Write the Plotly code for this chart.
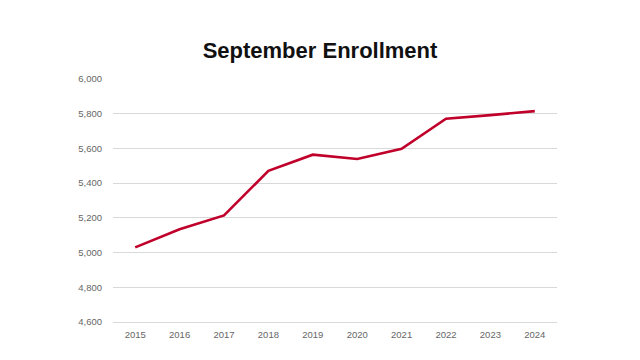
import plotly.graph_objects as go

years = ["2015", "2016", "2017", "2018", "2019", "2020", "2021", "2022", "2023", "2024"]
enrollment = [5030, 5134, 5214, 5471, 5564, 5539, 5598, 5771, 5792, 5815]
y_ticks = [4600, 4800, 5000, 5200, 5400, 5600, 5800, 6000]

fig = go.Figure()
fig.add_trace(go.Scatter(
    x=years, y=enrollment, mode="lines",
    line=dict(color="#C0002A", width=2.6),
    hoverinfo="skip",
))

fig.update_layout(
    width=640, height=360,
    paper_bgcolor="white", plot_bgcolor="white",
    margin=dict(l=105, r=91, t=71, b=46, autoexpand=False),
    showlegend=False,
    title=dict(
        text="<b>September Enrollment</b>",
        x=0.4875, xanchor="center", xref="container",
        y=0.883, yanchor="middle", yref="container",
        automargin=False,
        font=dict(family="Liberation Sans, Arial, sans-serif", size=22, color="#111111"),
    ),
    font=dict(family="Liberation Sans, Arial, sans-serif", size=9.5, color="#666666"),
)
fig.update_xaxes(
    type="category", range=[-0.5, 9.5], automargin=False,
    showgrid=False, zeroline=False,
    showline=True, linecolor="#D9D9D9", linewidth=1,
    ticks="", ticklabelstandoff=4,
    tickfont=dict(size=9.5, color="#666666"),
)
fig.update_yaxes(
    range=[4600, 6000], tickvals=y_ticks, automargin=False,
    tickformat=",d", showgrid=True, gridcolor="#D9D9D9", gridwidth=1,
    zeroline=False, showline=False, ticks="", ticklabelstandoff=10,
    tickfont=dict(size=9.5, color="#666666"),
)

fig.write_html("out.html")
